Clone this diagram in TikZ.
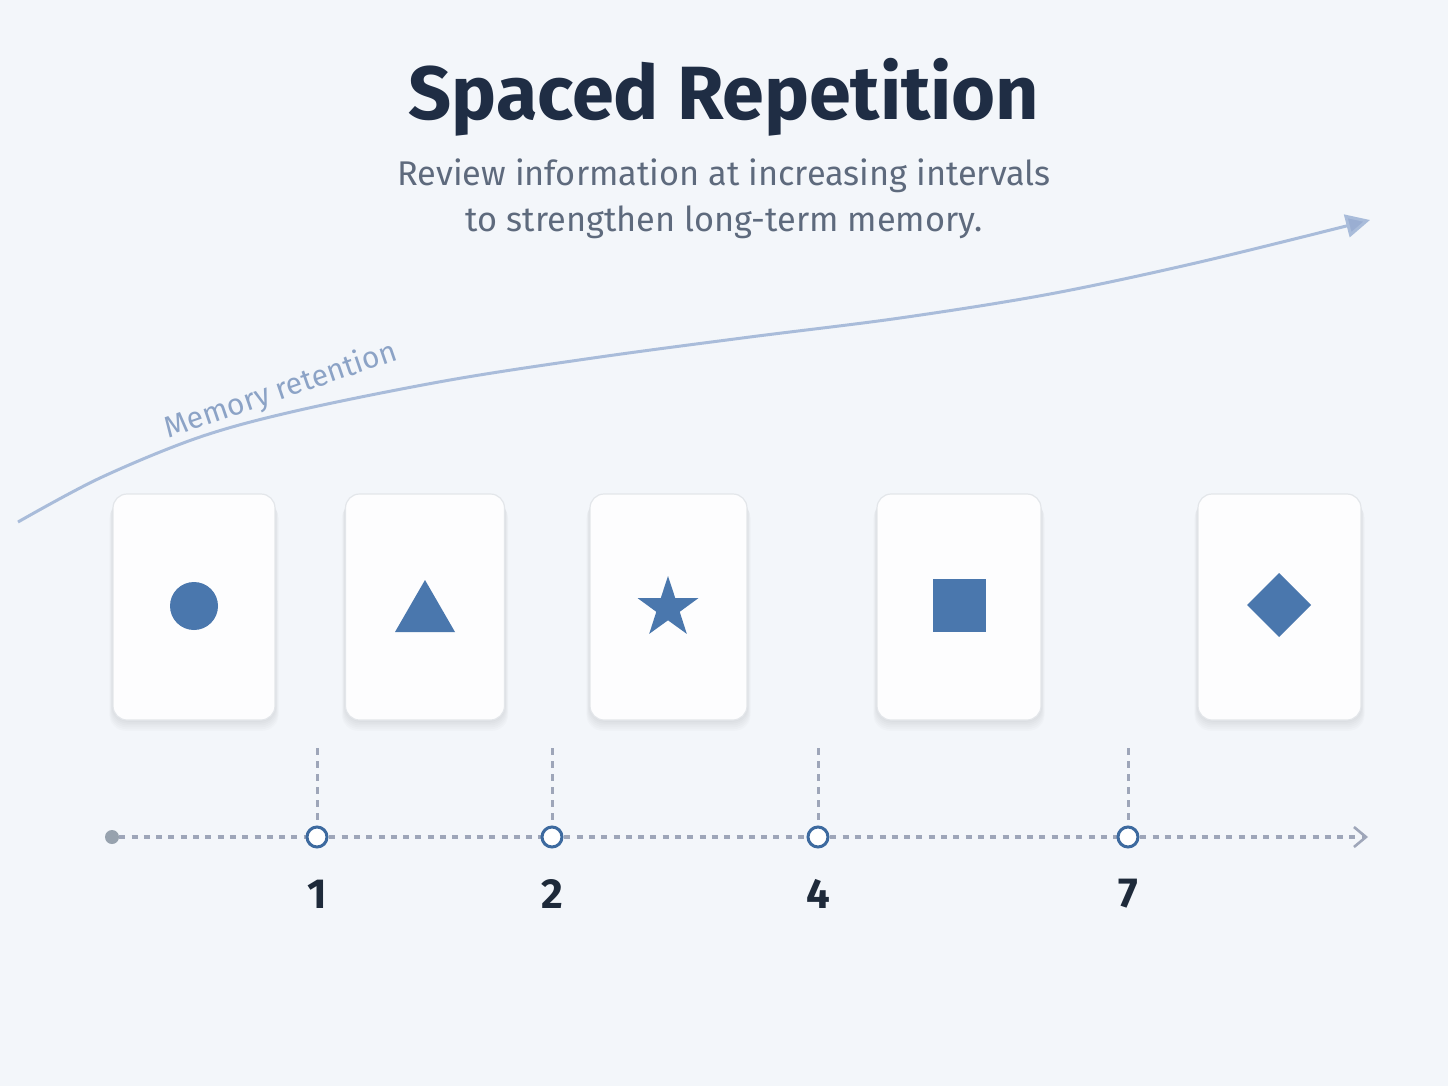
\documentclass[tikz,border=0pt]{standalone}
\usepackage{fontspec}
\setmainfont{Fira Sans}
\usetikzlibrary{arrows.meta,shapes.geometric}
\definecolor{bg}{HTML}{F3F6FA}
\definecolor{titlecol}{HTML}{1F2D44}
\definecolor{subcol}{HTML}{5E6A7D}
\definecolor{curvecol}{HTML}{A9BCDA}
\definecolor{headcol}{HTML}{9AAED2}
\definecolor{memcol}{HTML}{8CA3C6}
\definecolor{cardfill}{HTML}{FDFDFE}
\definecolor{cardborder}{HTML}{E3E6EA}
\definecolor{shapecol}{HTML}{4A77AD}
\definecolor{tlgray}{HTML}{9EA6B9}
\definecolor{dotgray}{HTML}{97A2AE}
\definecolor{ringcol}{HTML}{3D6A9F}
\definecolor{numcol}{HTML}{1E2A3A}
\tikzset{
  card/.style={draw=cardborder, fill=cardfill, line width=1.2pt, rounded corners=14pt, minimum height=226pt, inner sep=0pt},
  ring/.style={circle, draw=ringcol, fill=white, line width=3pt, minimum size=20pt, inner sep=0pt},
  tl/.style={draw=tlgray, line width=3.4pt, dash pattern=on 6pt off 6.3pt},
  vtick/.style={draw=tlgray, line width=3pt, dash pattern=on 7pt off 6pt},
  numlabel/.style={text=numcol, font=\fontsize{42}{50}\selectfont\bfseries},
}
\begin{document}
\begin{tikzpicture}[x=1pt,y=-1pt]
\useasboundingbox[fill=bg] (0,0) rectangle (1448,1086);

% title
\node[text=titlecol, font=\fontsize{75.5}{88}\selectfont\bfseries, anchor=base] (title) at (724,120) {Spaced Repetition};
\node[text=subcol, font=\fontsize{34.3}{46}\selectfont, anchor=base] (sub1) at (724,186) {Review information at increasing intervals};
\node[text=subcol, font=\fontsize{34.3}{46}\selectfont, anchor=base] (sub2) at (724,231) {to strengthen long-term memory.};

% memory retention curve
\draw[curvecol, line width=3pt, -{Triangle[length=24pt,width=23pt,fill=headcol]}]
  plot[smooth, tension=0.55] coordinates {(18,522) (100,478) (200,437) (300,410) (450,380) (600,357) (750,337) (900,318) (1050,294) (1200,262) (1370,220)};
\node[text=memcol, font=\fontsize{30}{34}\selectfont, rotate=19] (memlabel) at (281,391) {Memory retention};

% cards
\foreach \cx/\cw/\nm in {194/162/c1, 425/159/c2, 668.5/157/c3, 959/164/c4, 1279.5/163/c5}{
  \foreach \k in {1,...,6}{
    \fill[black, opacity=0.015, rounded corners=16pt] (\cx-\cw/2-\k*0.6, 494+\k*1.4) rectangle (\cx+\cw/2+\k*0.6, 720+\k*1.8);
  }
  \node[card, minimum width=\cw] (\nm) at (\cx,607) {};
}

% card symbols
\node[circle, fill=shapecol, minimum size=48pt, inner sep=0pt] (s1) at (194,606) {};
\fill[shapecol] (395,632) -- (425,580) -- (455,632) -- cycle;
\node[star, star points=5, star point ratio=2.6, fill=shapecol, minimum size=64pt, inner sep=0pt] (s3) at (668,608) {};
\fill[shapecol] (933,579) rectangle (986,632);
\fill[shapecol] (1279,573) -- (1311,605) -- (1279,637) -- (1247,605) -- cycle;

% timeline
\node[circle, fill=dotgray, minimum size=14pt, inner sep=0pt] (t0) at (112,837) {};
\coordinate (tend) at (1368,837);
\foreach \x/\nm in {317/t1, 552/t2, 818/t3, 1128/t4}{
  \coordinate (\nm) at (\x,837);
}
\draw[tl] (t0) -- (t1);
\draw[tl] (t1) -- (t2);
\draw[tl] (t2) -- (t3);
\draw[tl] (t3) -- (t4);
\draw[tl, -{Straight Barb[length=12pt,width=20pt,line width=2.6pt]}] (t4) -- (tend);
\foreach \x/\nm/\lab in {317/t1/1, 552/t2/2, 818/t3/4, 1128/t4/7}{
  \coordinate (\nm top) at (\x,748);
  \node[ring] (\nm ring) at (\nm) {};
  \draw[vtick] (\nm top) -- (\nm ring.north);
  \node[numlabel] (\nm lab) at (\x,894) {\lab};
}
\end{tikzpicture}
\end{document}
